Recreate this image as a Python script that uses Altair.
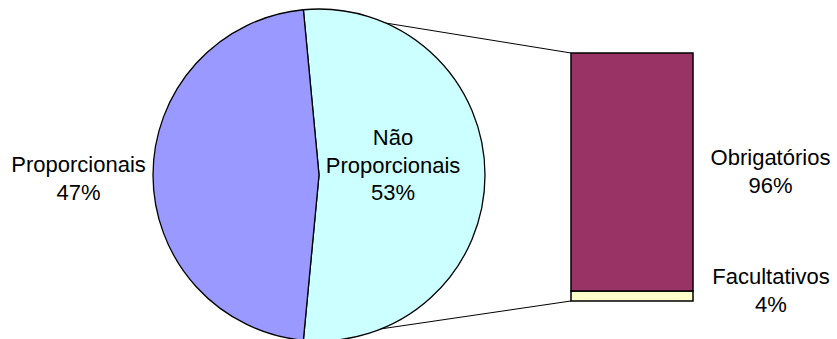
import math
import altair as alt
import pandas as pd

# Main pie: share of each kind
pie_labels = ["Não Proporcionais", "Proporcionais"]
pie_text = ["Não\nProporcionais\n53%", "Proporcionais\n47%"]
pie_values = [53, 47]
pie_colors = ["#CCFFFF", "#9999FF"]

# Breakdown of "Não Proporcionais" shown as a stacked bar
bar_labels = ["Facultativos", "Obrigatórios"]
bar_text = ["Facultativos\n4%", "Obrigatórios\n96%"]
bar_values = [4, 96]
bar_colors = ["#FFFFCC", "#993366"]

# Layout (pixels)
W, H = 837, 339
CX, CY, R = 319, 175, 166
BAR_X0, BAR_X1, BAR_TOP, BAR_BOTTOM = 571, 693, 53, 301
FONT = "Liberation Sans"
FONT_SIZE = 22

# The split slice is centred on 3 o'clock
share = pie_values[0] / sum(pie_values)
start = math.pi / 2 - math.pi * share + 2 * math.pi

pie_df = pd.DataFrame({"label": pie_labels, "value": pie_values,
                       "order": list(range(len(pie_labels)))})
bar_df = pd.DataFrame({"label": bar_labels, "value": bar_values,
                       "order": list(range(len(bar_labels)))})

all_labels = pie_labels + bar_labels
all_colors = pie_colors + bar_colors
color_scale = alt.Scale(domain=all_labels, range=all_colors)

px = alt.Scale(domain=[0, W], range=[0, W], zero=False, nice=False)
py = alt.Scale(domain=[0, H], range=[0, H], zero=False, nice=False)

# Series lines from the edges of the split slice to the bar corners
a_top = start
a_bottom = start + 2 * math.pi * share
lines_df = pd.DataFrame({
    "x": [CX + R * math.sin(a_top), CX + R * math.sin(a_bottom)],
    "y": [CY - R * math.cos(a_top), CY - R * math.cos(a_bottom)],
    "x2": [BAR_X0, BAR_X0],
    "y2": [BAR_TOP, BAR_BOTTOM],
})

lines = alt.Chart(lines_df).mark_rule(color="black", strokeWidth=1).encode(
    x=alt.X("x:Q", scale=px, axis=None),
    y=alt.Y("y:Q", scale=py, axis=None),
    x2="x2:Q",
    y2="y2:Q",
)

pie = alt.Chart(pie_df).mark_arc(
    outerRadius=R, stroke="black", strokeWidth=1.3
).encode(
    theta=alt.Theta("value:Q", stack=True,
                    scale=alt.Scale(range=[start, start + 2 * math.pi])),
    order=alt.Order("order:Q"),
    color=alt.Color("label:N", scale=color_scale, legend=None),
    x=alt.value(CX),
    y=alt.value(CY),
)

bar = alt.Chart(bar_df).transform_stack(
    stack="value", as_=["v0", "v1"], groupby=[],
    sort=[alt.SortField("order", order="ascending")],
).mark_bar(stroke="black", strokeWidth=1.5).encode(
    y=alt.Y("v0:Q", axis=None,
            scale=alt.Scale(domain=[0, sum(bar_values)],
                            range=[BAR_BOTTOM, BAR_TOP], nice=False)),
    y2="v1:Q",
    color=alt.Color("label:N", scale=color_scale, legend=None),
    x=alt.value(BAR_X0),
    x2=alt.value(BAR_X1),
)

# Data labels (first-line baseline positions)
labels_df = pd.DataFrame({
    "text": [pie_text[0], pie_text[1], bar_text[1], bar_text[0]],
    "x": [393, 78.5, 770.5, 771],
    "y": [145, 172, 165, 284],
})

labels = alt.Chart(labels_df).mark_text(
    font=FONT, fontSize=FONT_SIZE, color="black", align="center",
    baseline="alphabetic", lineBreak="\n", lineHeight=27.5,
).encode(
    x=alt.X("x:Q", scale=px, axis=None),
    y=alt.Y("y:Q", scale=py, axis=None),
    text="text:N",
)

chart = alt.layer(lines, pie, bar, labels).resolve_scale(
    x="independent", y="independent", color="shared"
).properties(
    width=W, height=H, padding=0, autosize=alt.AutoSizeParams(type="none"),
    background="white",
).configure_view(stroke=None)

chart.save("out.html", embed_options={"renderer": "svg", "actions": False})
